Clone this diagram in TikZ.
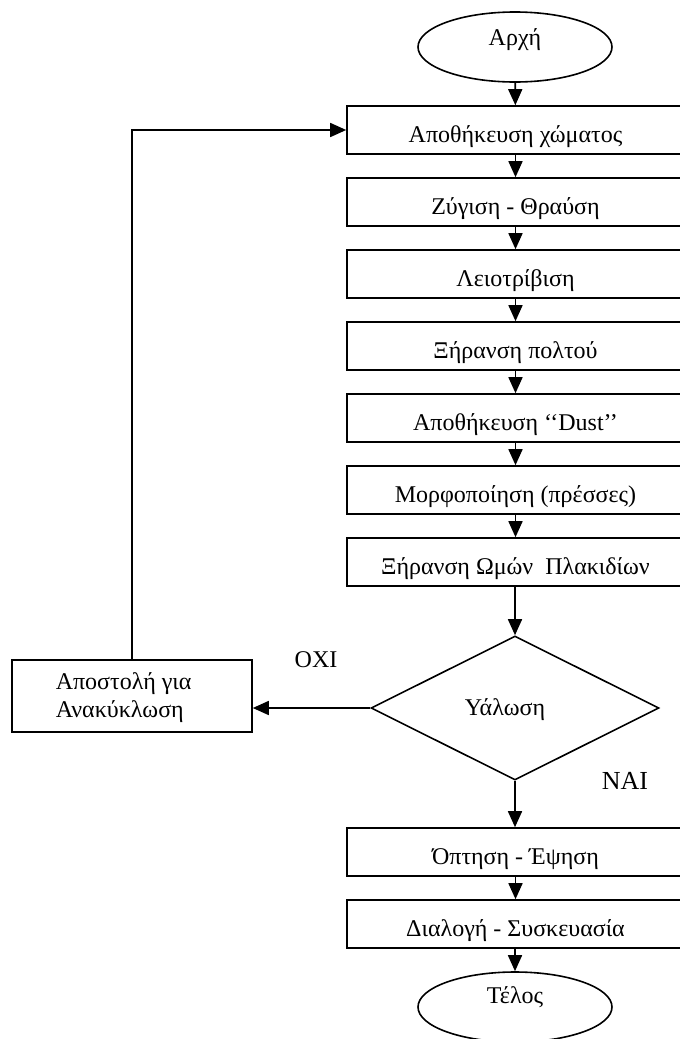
\documentclass[tikz,border=0pt]{standalone}
\usepackage{fontspec}
\setmainfont{Liberation Serif}
\usetikzlibrary{arrows.meta,shapes.geometric}

\begin{document}
\begin{tikzpicture}[x=1pt,y=-1pt,
  line width=1.6pt,
  every node/.style={font=\fontsize{24}{28}\selectfont},
  stepbox/.style={draw, rectangle, minimum width=337pt, minimum height=48pt, inner sep=0pt,
                  text height=24pt, text depth=0pt},
  terminal/.style={draw, ellipse, minimum width=194pt, minimum height=70pt, inner sep=0pt},
  decision/.style={draw, diamond, minimum width=288pt, minimum height=144pt, inner sep=0pt},
  flow/.style={-{Triangle[length=16pt,width=14pt]}},
  caption/.style={inner sep=0pt}
]
\useasboundingbox (0,0) rectangle (680,1039);
\clip (0,0) rectangle (680,1039);

% start / end terminals
\node[terminal] (start) at (515,47) {};
\node[caption] (starttxt) at (515,40) {Αρχή};

% main process column
\node[stepbox] (b1) at (515.5,130) {Αποθήκευση χώματος};
\node[stepbox] (b2) at (515.5,202) {Ζύγιση - Θραύση};
\node[stepbox] (b3) at (515.5,274) {Λειοτρίβιση};
\node[stepbox] (b4) at (515.5,346) {Ξήρανση πολτού};
\node[stepbox] (b5) at (515.5,418) {Αποθήκευση ‘‘Dust’’};
\node[stepbox] (b6) at (515.5,490) {Μορφοποίηση (πρέσσες)};
\node[stepbox] (b7) at (515.5,562) {Ξήρανση Ωμών\ \ Πλακιδίων};

% decision
\node[decision] (dec) at (515,708) {};
\node[caption] (dectxt) at (505,710) {Υάλωση};

\node[stepbox] (b8) at (515.5,852) {Όπτηση - Έψηση};
\node[stepbox] (b9) at (515.5,924) {Διαλογή - Συσκευασία};

\node[terminal] (end) at (515,1007) {};
\node[caption] (endtxt) at (515,997) {Τέλος};

% recycling branch
\node[draw, rectangle, minimum width=240pt, minimum height=72pt, inner sep=0pt] (rec) at (132,696) {};
\node[caption, anchor=west, align=left] (rectxt) at (55,698) {Αποστολή για\\Ανακύκλωση};

\node[caption] (no) at (316,660) {ΟΧΙ};
\node[caption, font=\fontsize{26}{30}\selectfont] (yes) at (625,781) {ΝΑΙ};

% connectors
\draw[flow] (start) -- (b1);
\draw[flow] (b1) -- (b2);
\draw[flow] (b2) -- (b3);
\draw[flow] (b3) -- (b4);
\draw[flow] (b4) -- (b5);
\draw[flow] (b5) -- (b6);
\draw[flow] (b6) -- (b7);
\draw[flow] (b7.south -| dec.north) -- (dec.north);
\draw[flow] (dec.south) -- (dec.south |- b8.north);
\draw[flow] (b8) -- (b9);
\draw[flow] (b9.south -| end.north) -- (end.north);
\draw[flow] (dec.west) -- (dec.west -| rec.east);
\draw[flow] (rec.north) -- (rec.north |- b1.west) -- (b1.west);
\end{tikzpicture}
\end{document}
